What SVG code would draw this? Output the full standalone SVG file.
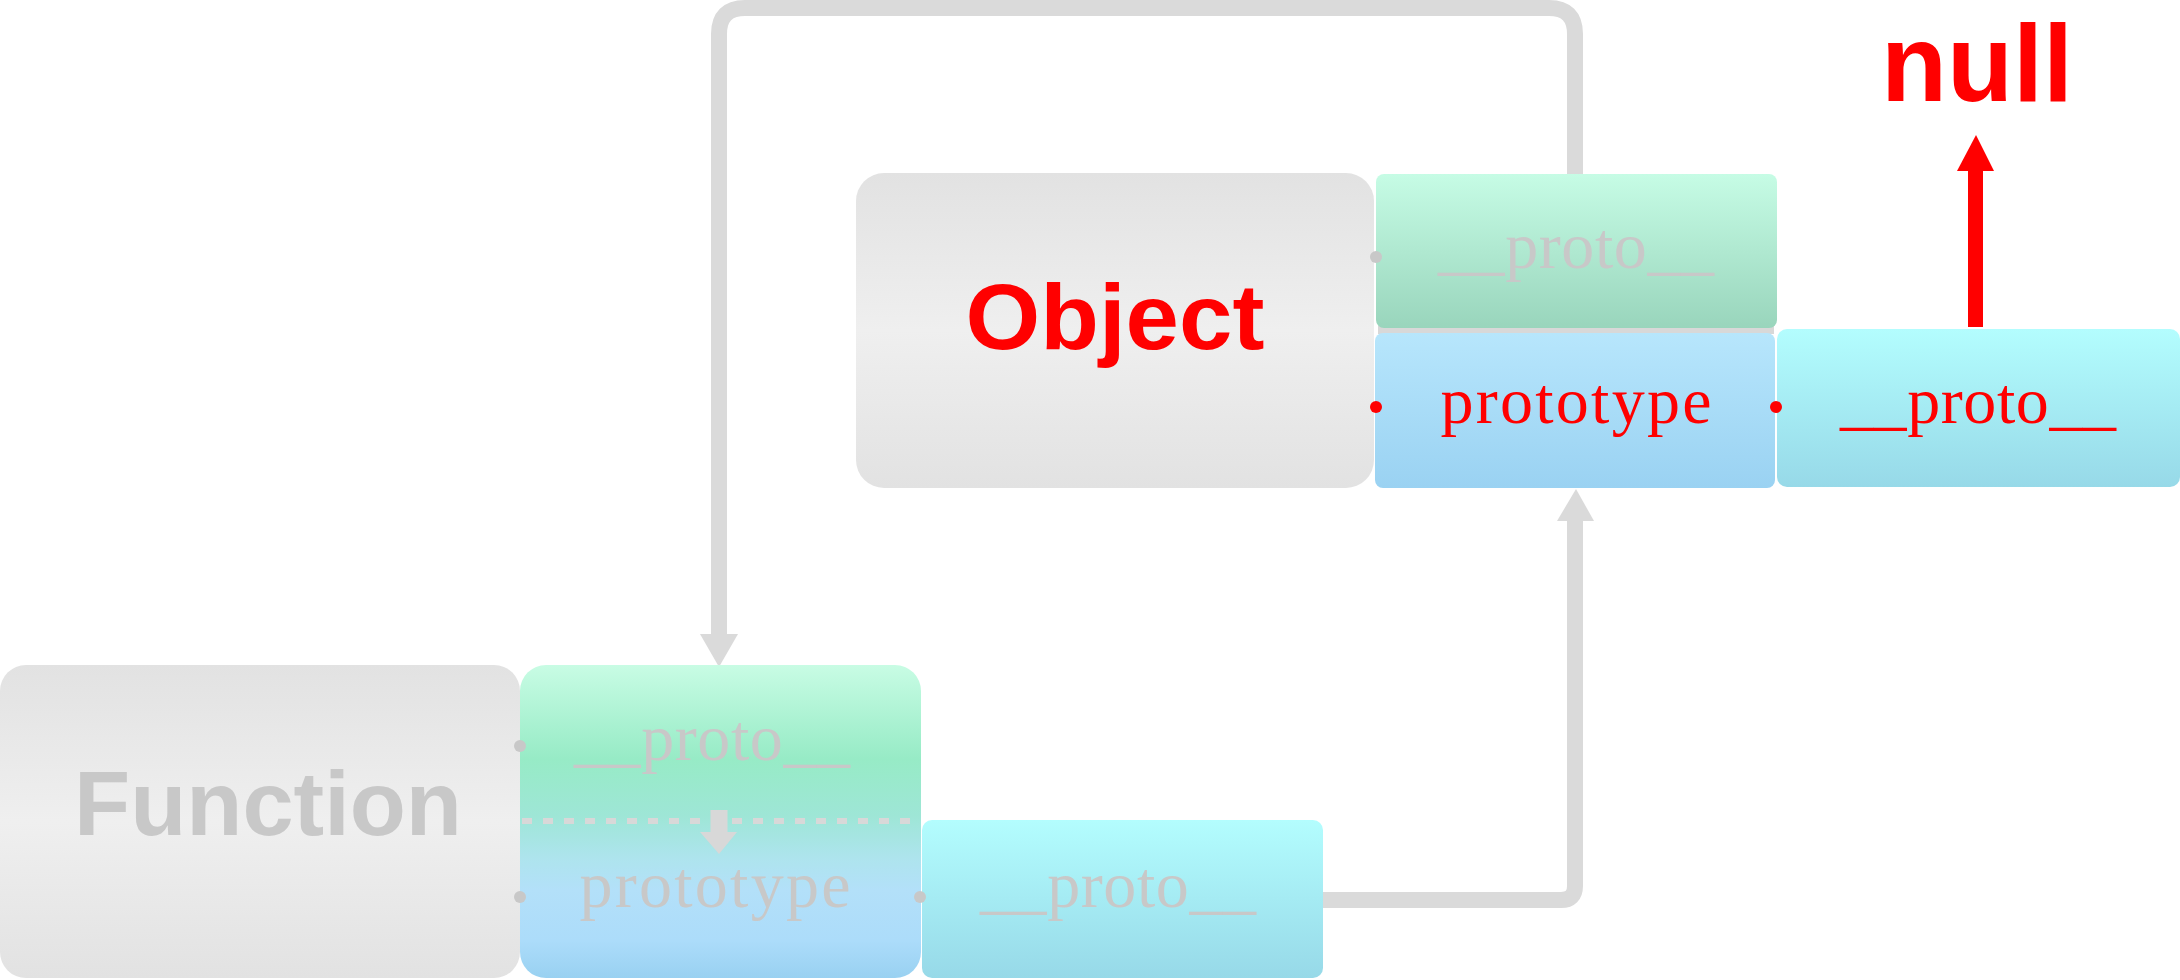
<svg xmlns="http://www.w3.org/2000/svg" width="2180" height="980" viewBox="0 0 2180 980">
  <defs>
    <linearGradient id="gGray" x1="0" y1="0" x2="0" y2="1">
      <stop offset="0" stop-color="#e2e2e2"/>
      <stop offset="0.5" stop-color="#efefef"/>
      <stop offset="1" stop-color="#e2e2e2"/>
    </linearGradient>
    <linearGradient id="gGreenBlue" x1="0" y1="0" x2="0" y2="1">
      <stop offset="0" stop-color="#c8fce4"/>
      <stop offset="0.3" stop-color="#97ebc6"/>
      <stop offset="0.48" stop-color="#9ee6d6"/>
      <stop offset="0.62" stop-color="#aee4ee"/>
      <stop offset="0.72" stop-color="#b3e0f9"/>
      <stop offset="0.88" stop-color="#acdcfa"/>
      <stop offset="1" stop-color="#99d1f1"/>
    </linearGradient>
    <linearGradient id="gGreen" x1="0" y1="0" x2="0" y2="1">
      <stop offset="0" stop-color="#c6fce5"/>
      <stop offset="1" stop-color="#99d5bc"/>
    </linearGradient>
    <linearGradient id="gBlue" x1="0" y1="0" x2="0" y2="1">
      <stop offset="0" stop-color="#b7e6fc"/>
      <stop offset="1" stop-color="#9ad2f2"/>
    </linearGradient>
    <linearGradient id="gCyan" x1="0" y1="0" x2="0" y2="1">
      <stop offset="0" stop-color="#b3fdfe"/>
      <stop offset="1" stop-color="#97d9e8"/>
    </linearGradient>
    <style>
      .big { font-family: "Liberation Sans", Arial, sans-serif; font-weight: bold; text-anchor: middle; }
      .lbl { font-family: "Liberation Serif", "Times New Roman", serif; font-size: 66px; text-anchor: middle; }
      .gray { fill: #c8c8c8; }
      .red { fill: #ff0000; }
      .conn { fill: none; stroke: #dadada; stroke-width: 16; }
      .head { fill: #dadada; }
    </style>
  </defs>

  <g id="connectors">
    <path class="conn" d="M1575,176 V34 Q1575,8 1549,8 H745 Q719,8 719,34 V636"/>
    <polygon class="head" points="700,634 738,634 719,667"/>
    <path class="conn" d="M1320,900 H1561 Q1575,900 1575,886 V518"/>
    <polygon class="head" points="1557,521 1594,521 1576,489"/>
    <rect x="1968" y="168" width="15" height="159" fill="#ff0000"/>
    <polygon points="1957,171 1994,171 1976,135" fill="#ff0000"/>
  </g>

  <g id="node-object">
    <rect x="856" y="173" width="518" height="315" rx="28" fill="url(#gGray)"/>
    <text class="big red" x="1115" y="349" font-size="92" textLength="299" lengthAdjust="spacingAndGlyphs">Object</text>
  </g>

  <g id="node-object-proto">
    <rect x="1378" y="326" width="396" height="8" fill="#d8d8d8"/>
    <rect x="1376" y="174" width="401" height="154" rx="8" fill="url(#gGreen)"/>
    <text class="lbl gray" x="1576" y="268" textLength="276" lengthAdjust="spacing">__proto__</text>
    <circle cx="1376" cy="257" r="6" fill="#c8c8c8"/>
  </g>

  <g id="node-object-prototype">
    <rect x="1375" y="333" width="400" height="155" rx="8" fill="url(#gBlue)"/>
    <text class="lbl red" x="1576" y="423" textLength="271" lengthAdjust="spacing">prototype</text>
    <circle cx="1376" cy="407" r="6" fill="#ff0000"/>
  </g>

  <g id="node-objproto-proto">
    <rect x="1777" y="329" width="403" height="158" rx="10" fill="url(#gCyan)"/>
    <text class="lbl red" x="1978" y="423" textLength="276" lengthAdjust="spacing">__proto__</text>
    <circle cx="1776" cy="407" r="6" fill="#ff0000"/>
  </g>

  <g id="node-null">
    <text class="big red" x="1977" y="101" font-size="110" textLength="192" lengthAdjust="spacingAndGlyphs">null</text>
  </g>

  <g id="node-function">
    <rect x="0" y="665" width="520" height="313" rx="26" fill="url(#gGray)"/>
    <text class="big gray" x="268" y="835" font-size="90" textLength="388" lengthAdjust="spacingAndGlyphs">Function</text>
  </g>

  <g id="node-function-slots">
    <rect x="520" y="665" width="401" height="313" rx="26" fill="url(#gGreenBlue)"/>
    <line x1="522" y1="821" x2="918" y2="821" stroke="#d8d8d8" stroke-width="6" stroke-dasharray="10 11"/>
    <line x1="719" y1="810" x2="719" y2="835" stroke="#d8d8d8" stroke-width="17"/>
    <polygon points="700,832 737,832 719,854" fill="#d8d8d8"/>
    <text class="lbl gray" x="712" y="760" textLength="276" lengthAdjust="spacing">__proto__</text>
    <text class="lbl gray" x="715" y="907" textLength="271" lengthAdjust="spacing">prototype</text>
    <circle cx="520" cy="746" r="6" fill="#c8c8c8"/>
    <circle cx="520" cy="897" r="6" fill="#c8c8c8"/>
  </g>

  <g id="node-funcproto-proto">
    <rect x="922" y="820" width="401" height="158" rx="10" fill="url(#gCyan)"/>
    <text class="lbl gray" x="1118" y="907" textLength="276" lengthAdjust="spacing">__proto__</text>
    <circle cx="920" cy="897" r="6" fill="#c8c8c8"/>
  </g>
</svg>
